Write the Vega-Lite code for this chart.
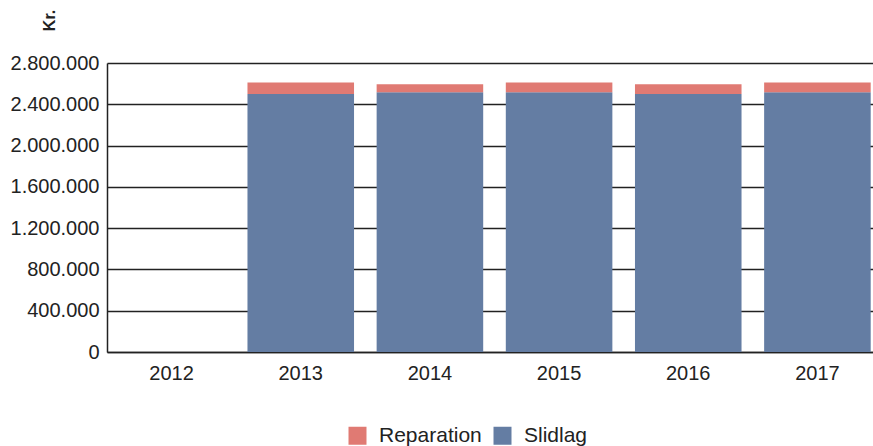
{
  "$schema": "https://vega.github.io/schema/vega-lite/v6.json",
  "autosize": {"type": "none"},
  "padding": {"left": 107, "top": 63, "right": 0, "bottom": 94},
  "width": 775,
  "height": 289,
  "background": "white",
  "data": {
    "values": [
      {"year": "2013", "series": "Slidlag", "value": 2500000},
      {"year": "2013", "series": "Reparation", "value": 110000},
      {"year": "2014", "series": "Slidlag", "value": 2516000},
      {"year": "2014", "series": "Reparation", "value": 78000},
      {"year": "2015", "series": "Slidlag", "value": 2516000},
      {"year": "2015", "series": "Reparation", "value": 94000},
      {"year": "2016", "series": "Slidlag", "value": 2500000},
      {"year": "2016", "series": "Reparation", "value": 94000},
      {"year": "2017", "series": "Slidlag", "value": 2516000},
      {"year": "2017", "series": "Reparation", "value": 94000}
    ]
  },
  "mark": {"type": "bar"},
  "encoding": {
    "x": {
      "field": "year",
      "type": "ordinal",
      "scale": {"domain": ["2012", "2013", "2014", "2015", "2016", "2017"], "paddingInner": 0.175, "paddingOuter": 0.0875},
      "axis": {
        "title": null,
        "labelAngle": 0,
        "ticks": false,
        "labelPadding": 11,
        "labelFont": "Liberation Sans",
        "labelFontSize": 20,
        "labelColor": "#222",
        "domain": true,
        "domainColor": "#222",
        "domainWidth": 1.5
      }
    },
    "y": {
      "field": "value",
      "type": "quantitative",
      "stack": "zero",
      "scale": {"domain": [0, 2800000], "nice": false},
      "axis": {
        "title": "Kr.",
        "titleFont": "Liberation Sans",
        "titleFontSize": 16,
        "titleFontWeight": "bold",
        "titleColor": "#222",
        "titleAngle": -90,
        "titleAlign": "center",
        "titleBaseline": "middle",
        "titleX": -58,
        "titleY": -43,
        "values": [0, 400000, 800000, 1200000, 1600000, 2000000, 2400000, 2800000],
        "format": ",.0f",
        "labelExpr": "replace(datum.label, /,/g, '.')",
        "ticks": false,
        "labelPadding": 8,
        "labelFont": "Liberation Sans",
        "labelFontSize": 20,
        "labelColor": "#222",
        "domain": true,
        "domainColor": "#222",
        "domainWidth": 1.5,
        "grid": true,
        "gridColor": "#222",
        "gridWidth": 1.3
      }
    },
    "color": {
      "field": "series",
      "type": "nominal",
      "scale": {"domain": ["Reparation", "Slidlag"], "range": ["#e07a73", "#647da3"]},
      "legend": {
        "title": null,
        "orient": "none",
        "direction": "horizontal",
        "legendX": 240,
        "legendY": 362,
        "symbolType": "square",
        "symbolSize": 324,
        "symbolStrokeWidth": 0,
        "symbolOpacity": 1,
        "labelFont": "Liberation Sans",
        "labelFontSize": 21,
        "labelColor": "#222",
        "labelOffset": 11,
        "columnPadding": 10
      }
    },
    "order": {"field": "series", "sort": "descending"}
  },
  "config": {
    "view": {"stroke": null}
  }
}
